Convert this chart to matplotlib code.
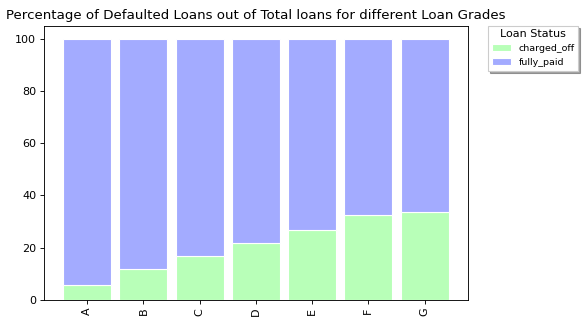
import numpy as np
import matplotlib
matplotlib.use("Agg")
import matplotlib.pyplot as plt

grades = ["A", "B", "C", "D", "E", "F", "G"]
charged_off = [5.9, 11.9, 16.9, 21.9, 26.9, 32.6, 33.8]
fully_paid = [100 - v for v in charged_off]

fig, ax = plt.subplots(figsize=(7.3, 4.05), dpi=80)
fig.subplots_adjust(left=0.0753, right=0.801, bottom=0.074, top=0.921)

x = np.arange(len(grades))
ax.bar(x, charged_off, width=0.85, color="#b8ffb8", edgecolor="white", label="charged_off")
ax.bar(x, fully_paid, width=0.85, bottom=charged_off, color="#a3abff", edgecolor="white", label="fully_paid")

ax.set_xticks(x)
ax.set_xticklabels(grades, rotation=90)
ax.set_title("Percentage of Defaulted Loans out of Total loans for different Loan Grades")
ax.legend(title="Loan Status", bbox_to_anchor=(1.048, 1.0), loc="upper left",
          borderaxespad=0, shadow=True, fontsize=8.5, title_fontsize=10, fancybox=False)

fig.savefig("out.png", dpi=80)
